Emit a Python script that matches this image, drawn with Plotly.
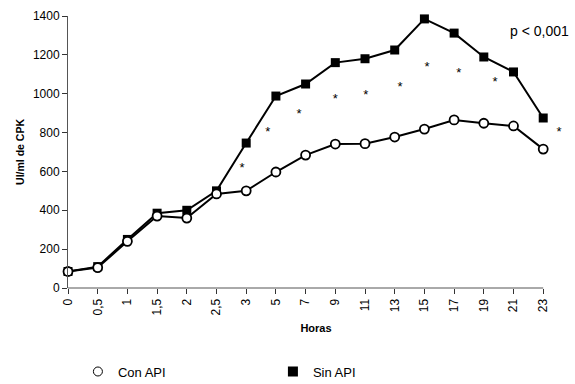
import plotly.graph_objects as go

horas = ["0", "0,5", "1", "1,5", "2", "2,5", "3", "5", "7", "9", "11", "13", "15", "17", "19", "21", "23"]
con_api = [85, 105, 240, 370, 360, 484, 500, 597, 684, 741, 743, 777, 818, 865, 848, 834, 715]
sin_api = [85, 110, 250, 385, 400, 500, 746, 988, 1050, 1160, 1180, 1225, 1385, 1312, 1189, 1112, 875]
star_pos = [5.86, 6.73, 7.78, 9.0, 10.03, 11.18, 12.09, 13.16, 14.38, 16.53]
star_val = [612, 797, 890, 967, 988, 1029, 1132, 1101, 1055, 798]

idx = list(range(len(horas)))
font = "Liberation Sans, Arial, sans-serif"
last = idx[-1]

fig = go.Figure()
fig.add_trace(go.Scatter(
    x=idx, y=sin_api, name="Sin API", mode="lines+markers",
    line=dict(color="black", width=2),
    marker=dict(symbol="square", size=9, color="black"),
    cliponaxis=False, showlegend=False,
))
fig.add_trace(go.Scatter(
    x=idx, y=con_api, name="Con API", mode="lines+markers",
    line=dict(color="black", width=2),
    marker=dict(symbol="circle", size=9, color="white", line=dict(color="black", width=1.8)),
    cliponaxis=False, showlegend=False,
))
fig.add_trace(go.Scatter(
    x=star_pos, y=star_val, mode="text", text=["*"] * len(star_pos),
    textfont=dict(family=font, size=13, color="black"), showlegend=False,
    cliponaxis=False, hoverinfo="skip",
))
# legend-only entries (markers only, as in the reference)
fig.add_trace(go.Scatter(
    x=[None], y=[None], name="Con API", mode="markers",
    marker=dict(symbol="circle-open", size=9, color="black", line=dict(width=1)),
))
fig.add_trace(go.Scatter(
    x=[None], y=[None], name="Sin API", mode="markers",
    marker=dict(symbol="square", size=10, color="black"),
))

fig.update_layout(
    width=575, height=384,
    margin=dict(l=68, r=11, t=16, b=96, autoexpand=False),
    paper_bgcolor="white", plot_bgcolor="white",
    font=dict(family=font, color="black", size=12),
    showlegend=True,
    legend=dict(orientation="h", x=0.02, y=-0.252, xanchor="left", yanchor="top",
                entrywidth=150, entrywidthmode="pixels",
                font=dict(size=13, family=font)),
    annotations=[dict(text="p < 0,001", x=1.015, y=0.945, xref="paper", yref="paper",
                      xanchor="right", yanchor="middle", showarrow=False,
                      font=dict(size=14, family=font))],
    shapes=[dict(type="line", xref="x", yref="paper", x0=0, x1=last, y0=0, y1=0,
                 line=dict(color="#555", width=1))],
)
fig.update_xaxes(
    range=[0, 16.7], tickmode="array", tickvals=idx, ticktext=horas, tickangle=-90,
    showgrid=False, zeroline=False, showline=False,
    ticks="outside", ticklen=5, tickcolor="#333",
    title=dict(text="<b>Horas</b>", font=dict(size=11), standoff=9),
)
fig.update_yaxes(
    range=[0, 1400], dtick=200, showgrid=False, zeroline=False,
    showline=True, linecolor="#555", linewidth=1,
    ticks="outside", ticklen=5, tickcolor="#333",
    title=dict(text="<b>Ul/ml de CPK</b>", font=dict(size=10.5), standoff=6),
)

fig.write_html("out.html")
